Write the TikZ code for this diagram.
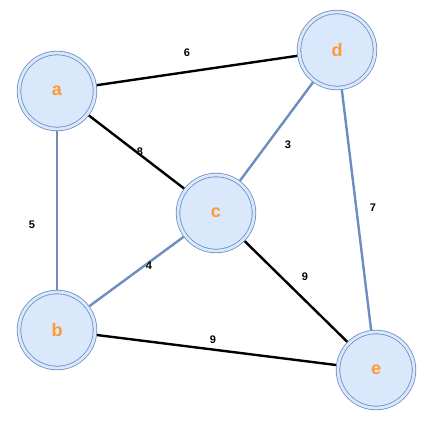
\documentclass[tikz,border=0pt]{standalone}
\usepackage{fontspec}
\setmainfont{Liberation Sans}
\definecolor{nodefill}{HTML}{DAE8FC}
\definecolor{nodeline}{HTML}{6C8EBF}
\definecolor{nodetext}{HTML}{FF9933}
\begin{document}
\begin{tikzpicture}[x=1pt,y=-1pt,
  vert/.style={circle,draw=nodeline,fill=nodefill,line width=0.8pt,double=nodefill,double distance=2.8pt,
    minimum size=76pt,inner sep=0pt,outer sep=2.2pt,font=\fontsize{18}{18}\selectfont\bfseries,text=nodetext},
  blk/.style={line width=2.4pt,black},
  blu/.style={line width=2.4pt,nodeline},
  wt/.style={font=\fontsize{11}{11}\selectfont\bfseries,inner sep=0pt}]
\useasboundingbox (0,0) rectangle (435,426);
\node[vert] (a) at (57,91) {a};
\node[vert] (b) at (57,330) {b};
\node[vert] (c) at (216,213) {c};
\node[vert] (d) at (337,50) {d};
\node[vert] (e) at (376,370) {e};
\draw[blk] (a) -- (d);
\draw[blk] (a) -- (c);
\draw[blk] (c) -- (e);
\draw[blk] (b) -- (e);
\draw[blu] (a) -- (b);
\draw[blu] (b) -- (c);
\draw[blu] (c) -- (d);
\draw[blu] (d) -- (e);
\node[wt] (w6) at (187,53) {6};
\node[wt] (w8) at (140,152) {8};
\node[wt] (w3) at (288,145) {3};
\node[wt] (w5) at (32,225) {5};
\node[wt] (w7) at (373,208) {7};
\node[wt] (w4) at (149,266) {4};
\node[wt] (w9a) at (305,277) {9};
\node[wt] (w9b) at (213,340) {9};
\end{tikzpicture}
\end{document}
